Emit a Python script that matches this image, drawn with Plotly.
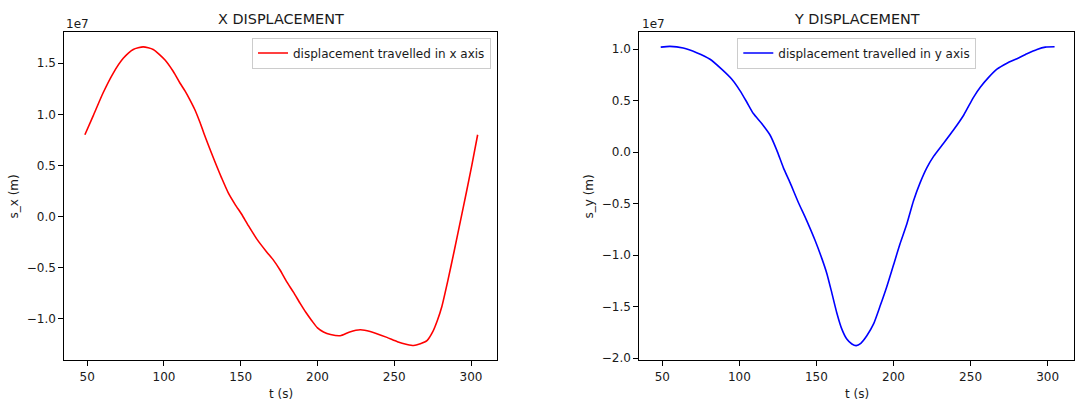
import numpy as np
import plotly.graph_objects as go

# ---- data (displacement in units of 1e7 m) ----
t_x = [48.5, 53.9, 60.4, 67.0, 73.5, 80.0, 86.5, 93.0, 100.7, 106.1, 110.4, 113.7, 117.0, 120.0,
       123.5, 126.0, 128.9, 133.2, 137.6, 141.9, 146.3, 150.6, 155.0, 160.4, 166.9, 171.3,
       175.6, 180.0, 184.3, 188.7, 192.5, 196.3, 200.0, 203.9, 208.5, 214.8, 221.0, 227.8,
       234.3, 245.2, 252.0, 258.3, 262.6, 267.0, 271.3, 275.0, 278.0, 281.0, 285.0, 289.0,
       293.0, 297.0, 300.5, 304.3]
s_x_1e7 = [0.80, 0.985, 1.211, 1.404, 1.548, 1.635, 1.660, 1.635, 1.532, 1.419, 1.307, 1.23, 1.14, 1.05,
           0.92, 0.815, 0.70, 0.536, 0.376, 0.231, 0.119, 0.022, -0.09, -0.219, -0.347, -0.427,
           -0.524, -0.64, -0.74, -0.85, -0.94, -1.02, -1.09, -1.13, -1.155, -1.167, -1.13, -1.109,
           -1.125, -1.183, -1.225, -1.252, -1.263, -1.245, -1.215, -1.13, -1.02, -0.88, -0.62, -0.34,
           -0.05, 0.24, 0.50, 0.80]

t_y = [49.0, 55.0, 63.6, 72.3, 81.0, 88.5, 95.0, 100.4, 104.8, 109.1, 114.5, 119.9, 124.2,
       128.6, 132.9, 138.3, 143.7, 149.1, 153.5, 156.7, 160.0, 163.2, 166.5, 169.7, 173.0,
       175.8, 178.8, 182.7, 187.0, 191.3, 195.7, 200.0, 204.3, 208.7, 213.0, 217.3, 221.6,
       226.0, 232.5, 238.9, 245.5, 252.0, 256.3, 261.7, 267.1, 273.6, 280.1, 286.6, 293.1,
       298.5, 304.5]
s_y_1e7 = [1.019, 1.026, 1.01, 0.965, 0.901, 0.805, 0.709, 0.597, 0.486, 0.374, 0.278, 0.166, 0.022,
           -0.153, -0.297, -0.489, -0.665, -0.856, -1.032, -1.176, -1.367, -1.559, -1.719, -1.815, -1.863,
           -1.879, -1.856, -1.783, -1.671, -1.495, -1.304, -1.096, -0.888, -0.696, -0.473, -0.297, -0.153,
           -0.042, 0.086, 0.214, 0.358, 0.534, 0.629, 0.725, 0.805, 0.863, 0.907, 0.955, 0.997,
           1.019, 1.022]

x_ticks = [50, 100, 150, 200, 250, 300]
y_ticks_left = [-1.0, -0.5, 0.0, 0.5, 1.0, 1.5]
y_ticks_right = [-2.0, -1.5, -1.0, -0.5, 0.0, 0.5, 1.0]

SCALE = 1e7
W, H = 1078, 402
FONT = "DejaVu Sans"
TXT = "#1a1a1a"
FS = 12


def fmt(v):
    s = f"{abs(v):.1f}"
    return ("\u2212" + s) if v < 0 else s


def px(xp):
    return xp / W


def py(yp):
    return 1 - yp / H


fig = go.Figure()
fig.add_trace(go.Scatter(x=t_x, y=np.array(s_x_1e7) * SCALE, mode="lines",
                         line=dict(color="red", width=1.6, shape="spline", smoothing=0.6),
                         name="displacement travelled in x axis",
                         xaxis="x", yaxis="y", legend="legend", showlegend=True))
fig.add_trace(go.Scatter(x=t_y, y=np.array(s_y_1e7) * SCALE, mode="lines",
                         line=dict(color="blue", width=1.6, shape="spline", smoothing=0.6),
                         name="displacement travelled in y axis",
                         xaxis="x2", yaxis="y2", legend="legend2", showlegend=True))

ydom = [py(365), py(32.7)]
axis_common = dict(showline=True, mirror=True, linecolor="black", linewidth=1,
                   ticks="outside", ticklen=5, tickwidth=1, tickcolor="black",
                   showgrid=False, zeroline=False,
                   tickfont=dict(family=FONT, size=FS, color=TXT))

fig.update_layout(
    width=W, height=H,
    margin=dict(l=0, r=0, t=0, b=0),
    plot_bgcolor="white", paper_bgcolor="white",
    showlegend=True,
    font=dict(family=FONT, color=TXT),
    xaxis=dict(domain=[px(64.3), px(497.3)], range=[35.1, 317.1],
               tickvals=x_ticks, anchor="y", **axis_common),
    yaxis=dict(domain=ydom, range=[-1.409 * SCALE, 1.803 * SCALE],
               tickvals=[v * SCALE for v in y_ticks_left],
               ticktext=[fmt(v) for v in y_ticks_left], anchor="x", **axis_common),
    xaxis2=dict(domain=[px(639.3), px(1074)], range=[35.1, 317.1],
                tickvals=x_ticks, anchor="y2", **axis_common),
    yaxis2=dict(domain=ydom, range=[-2.023 * SCALE, 1.163 * SCALE],
                tickvals=[v * SCALE for v in y_ticks_right],
                ticktext=[fmt(v) for v in y_ticks_right], anchor="x2", **axis_common),
    legend=dict(x=px(491), y=py(38), xanchor="right", yanchor="top",
                bgcolor="rgba(255,255,255,0.8)", bordercolor="#cccccc", borderwidth=1,
                font=dict(family=FONT, size=FS, color=TXT)),
    legend2=dict(x=px(856.8), y=py(38), xanchor="center", yanchor="top",
                 bgcolor="rgba(255,255,255,0.8)", bordercolor="#cccccc", borderwidth=1,
                 font=dict(family=FONT, size=FS, color=TXT)),
)

ann = []
ann.append(dict(text="X DISPLACEMENT", x=px(280.8), y=py(19), xanchor="center", yanchor="middle",
                font=dict(family=FONT, size=14.4, color=TXT)))
ann.append(dict(text="Y DISPLACEMENT", x=px(856.7), y=py(19), xanchor="center", yanchor="middle",
                font=dict(family=FONT, size=14.4, color=TXT)))
ann.append(dict(text="1e7", x=px(63.5), y=py(24.5), xanchor="left", yanchor="middle",
                font=dict(family=FONT, size=FS, color=TXT)))
ann.append(dict(text="1e7", x=px(639.5), y=py(24.5), xanchor="left", yanchor="middle",
                font=dict(family=FONT, size=FS, color=TXT)))
ann.append(dict(text="s_x (m)", x=px(14), y=py(199), xanchor="center", yanchor="middle",
                textangle=-90, font=dict(family=FONT, size=FS, color=TXT)))
ann.append(dict(text="s_y (m)", x=px(589), y=py(199), xanchor="center", yanchor="middle",
                textangle=-90, font=dict(family=FONT, size=FS, color=TXT)))
ann.append(dict(text="t (s)", x=px(280.8), y=py(399), xanchor="center", yanchor="middle",
                font=dict(family=FONT, size=FS, color=TXT)))
ann.append(dict(text="t (s)", x=px(856.7), y=py(399), xanchor="center", yanchor="middle",
                font=dict(family=FONT, size=FS, color=TXT)))
for a in ann:
    a.update(xref="paper", yref="paper", showarrow=False)
fig.update_layout(annotations=ann)

fig.write_html("out.html")
